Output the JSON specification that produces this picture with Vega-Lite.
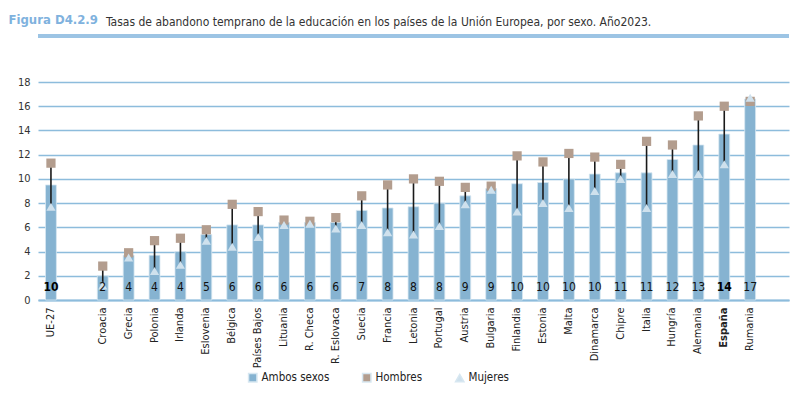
{
  "$schema": "https://vega.github.io/schema/vega-lite/v6.json",
  "width": 751,
  "height": 218,
  "autosize": {"type": "none"},
  "padding": {"left": 38, "top": 82, "right": 11, "bottom": 95},
  "background": "white",
  "config": {
    "font": "DejaVu Sans Condensed, Liberation Sans, sans-serif",
    "view": {"stroke": null},
    "axisY": {
      "tickCount": 10, "labelOverlap": false,
      "titleAngle": 0, "titleAlign": "left", "titleBaseline": "alphabetic",
      "titleX": -30, "titleY": -59, "titleColor": "#7fb2de", "titleFontSize": 13, "titleFontWeight": "bold"
    }
  },
  "title": {
    "text": "Tasas de abandono temprano de la educación en los países de la Unión Europea, por sexo. Año2023.",
    "anchor": "start",
    "frame": "group",
    "dx": 68,
    "dy": 16,
    "offset": 0,
    "fontSize": 12,
    "fontWeight": "normal",
    "color": "#333333"
  },
  "data": {
    "values": [
      {"pais": "UE-27", "ambos": 9.5, "Hombres": 11.3, "Mujeres": 7.7},
      {"pais": "Croacia", "ambos": 2.0, "Hombres": 2.8, "Mujeres": 1.2},
      {"pais": "Grecia", "ambos": 3.7, "Hombres": 3.9, "Mujeres": 3.5},
      {"pais": "Polonia", "ambos": 3.7, "Hombres": 4.9, "Mujeres": 2.4},
      {"pais": "Irlanda", "ambos": 4.0, "Hombres": 5.1, "Mujeres": 2.9},
      {"pais": "Eslovenia", "ambos": 5.4, "Hombres": 5.8, "Mujeres": 4.9},
      {"pais": "Bélgica", "ambos": 6.2, "Hombres": 7.9, "Mujeres": 4.4},
      {"pais": "Países Bajos", "ambos": 6.2, "Hombres": 7.3, "Mujeres": 5.2},
      {"pais": "Lituania", "ambos": 6.4, "Hombres": 6.6, "Mujeres": 6.2},
      {"pais": "R. Checa", "ambos": 6.4, "Hombres": 6.5, "Mujeres": 6.3},
      {"pais": "R. Eslovaca", "ambos": 6.4, "Hombres": 6.8, "Mujeres": 5.9},
      {"pais": "Suecia", "ambos": 7.4, "Hombres": 8.6, "Mujeres": 6.2},
      {"pais": "Francia", "ambos": 7.6, "Hombres": 9.5, "Mujeres": 5.6},
      {"pais": "Letonia", "ambos": 7.7, "Hombres": 10.0, "Mujeres": 5.4},
      {"pais": "Portugal", "ambos": 8.0, "Hombres": 9.8, "Mujeres": 6.1},
      {"pais": "Austria", "ambos": 8.6, "Hombres": 9.3, "Mujeres": 7.9},
      {"pais": "Bulgaria", "ambos": 9.2, "Hombres": 9.4, "Mujeres": 9.1},
      {"pais": "Finlandia", "ambos": 9.6, "Hombres": 11.9, "Mujeres": 7.3},
      {"pais": "Estonia", "ambos": 9.7, "Hombres": 11.4, "Mujeres": 8.0},
      {"pais": "Malta", "ambos": 10.0, "Hombres": 12.1, "Mujeres": 7.6},
      {"pais": "Dinamarca", "ambos": 10.4, "Hombres": 11.8, "Mujeres": 9.0},
      {"pais": "Chipre", "ambos": 10.5, "Hombres": 11.2, "Mujeres": 10.0},
      {"pais": "Italia", "ambos": 10.5, "Hombres": 13.1, "Mujeres": 7.6},
      {"pais": "Hungría", "ambos": 11.6, "Hombres": 12.8, "Mujeres": 10.4},
      {"pais": "Alemania", "ambos": 12.8, "Hombres": 15.2, "Mujeres": 10.4},
      {"pais": "España", "ambos": 13.7, "Hombres": 16.0, "Mujeres": 11.2},
      {"pais": "Rumania", "ambos": 16.6, "Hombres": 16.4, "Mujeres": 16.7}
    ]
  },
  "layer": [
    {
      "mark": {"type": "bar", "stroke": "#d7e7f1", "strokeWidth": 0.8},
      "encoding": {
        "x": {
          "field": "pais", "type": "nominal", "sort": null,
          "scale": {
            "domain": ["UE-27", " ", "Croacia", "Grecia", "Polonia", "Irlanda", "Eslovenia", "Bélgica", "Países Bajos", "Lituania", "R. Checa", "R. Eslovaca", "Suecia", "Francia", "Letonia", "Portugal", "Austria", "Bulgaria", "Finlandia", "Estonia", "Malta", "Dinamarca", "Chipre", "Italia", "Hungría", "Alemania", "España", "Rumania", "  "],
            "paddingInner": 0.58, "paddingOuter": 0.29
          },
          "axis": {
            "title": null, "labelAngle": -90, "labelAlign": "right", "labelBaseline": "middle",
            "labelFontSize": 11, "labelColor": "#222222", "labelPadding": 7,
            "labelFontWeight": {"condition": {"test": "datum.value === 'España'", "value": "bold"}, "value": "normal"},
            "ticks": false, "domain": true, "domainColor": "#8dbcdc", "domainWidth": 2.2, "grid": false
          }
        },
        "y": {
          "field": "ambos", "type": "quantitative",
          "scale": {"domain": [0, 18], "nice": false},
          "axis": {
            "title": "Figura D4.2.9", "values": [0, 2, 4, 6, 8, 10, 12, 14, 16, 18], "tickCount": 10,
            "domain": false, "ticks": false, "labelFontSize": 11, "labelColor": "#333333", "labelPadding": 8,
            "gridColor": "#8dbcdc", "gridWidth": 1.3, "gridOpacity": 1
          }
        },
        "color": {
          "datum": "Ambos sexos", "type": "nominal",
          "scale": {"domain": ["Ambos sexos", "Hombres", "Mujeres"], "range": ["#86b3d1", "#b39d8e", "#cfe1ed"]},
          "legend": {
            "title": null, "orient": "none", "direction": "horizontal", "legendX": 209, "legendY": 290,
            "labelFontSize": 11.5, "labelColor": "#222222", "symbolSize": 70, "columnPadding": 29, "labelOffset": 3
          }
        }
      }
    },
    {
      "mark": {"type": "rule", "color": "#1a1a1a", "strokeWidth": 1.6},
      "encoding": {
        "x": {"field": "pais", "type": "nominal", "sort": null},
        "y": {
          "field": "Hombres", "type": "quantitative",
          "axis": {
            "title": "Figura D4.2.9", "values": [0, 2, 4, 6, 8, 10, 12, 14, 16, 18], "tickCount": 10,
            "domain": false, "ticks": false, "labelFontSize": 11, "labelColor": "#333333", "labelPadding": 8,
            "gridColor": "#8dbcdc", "gridWidth": 1.3, "gridOpacity": 1
          }
        },
        "y2": {"field": "Mujeres"}
      }
    },
    {
      "transform": [{"fold": ["Hombres", "Mujeres"], "as": ["sexo", "valor"]}],
      "mark": {"type": "point", "filled": true, "opacity": 1, "size": 85},
      "encoding": {
        "x": {"field": "pais", "type": "nominal", "sort": null},
        "y": {
          "field": "valor", "type": "quantitative",
          "axis": {
            "title": "Figura D4.2.9", "values": [0, 2, 4, 6, 8, 10, 12, 14, 16, 18], "tickCount": 10,
            "domain": false, "ticks": false, "labelFontSize": 11, "labelColor": "#333333", "labelPadding": 8,
            "gridColor": "#8dbcdc", "gridWidth": 1.3, "gridOpacity": 1
          }
        },
        "color": {
          "field": "sexo", "type": "nominal",
          "legend": {
            "title": null, "orient": "none", "direction": "horizontal", "legendX": 209, "legendY": 290,
            "labelFontSize": 11.5, "labelColor": "#222222", "symbolSize": 70, "columnPadding": 29, "labelOffset": 3
          }
        },
        "shape": {
          "field": "sexo", "type": "nominal",
          "scale": {"domain": ["Ambos sexos", "Hombres", "Mujeres"], "range": ["square", "square", "triangle-up"]},
          "legend": {
            "title": null, "orient": "none", "direction": "horizontal", "legendX": 209, "legendY": 290,
            "labelFontSize": 11.5, "labelColor": "#222222", "symbolSize": 70, "columnPadding": 29, "labelOffset": 3
          }
        }
      }
    },
    {
      "transform": [{"filter": "datum.pais !== 'UE-27' && datum.pais !== 'España'"}],
      "mark": {"type": "text", "fontSize": 12, "color": "#111111", "baseline": "middle"},
      "encoding": {
        "x": {"field": "pais", "type": "nominal", "sort": null},
        "y": {"datum": 1.05, "axis": {"title": "Figura D4.2.9", "values": [0, 2, 4, 6, 8, 10, 12, 14, 16, 18], "tickCount": 10}},
        "text": {"field": "ambos", "type": "quantitative", "format": ".0f"}
      }
    },
    {
      "transform": [{"filter": "datum.pais === 'UE-27' || datum.pais === 'España'"}],
      "mark": {"type": "text", "fontSize": 12, "fontWeight": "bold", "color": "#000000", "baseline": "middle"},
      "encoding": {
        "x": {"field": "pais", "type": "nominal", "sort": null},
        "y": {"datum": 1.05, "axis": {"title": "Figura D4.2.9", "values": [0, 2, 4, 6, 8, 10, 12, 14, 16, 18], "tickCount": 10}},
        "text": {"field": "ambos", "type": "quantitative", "format": ".0f"}
      }
    },
    {
      "mark": {"type": "rule", "color": "#9cc4e4", "strokeWidth": 2.5},
      "encoding": {"y": {"datum": 21.8, "axis": {"title": "Figura D4.2.9", "values": [0, 2, 4, 6, 8, 10, 12, 14, 16, 18], "tickCount": 10}}}
    }
  ]
}
